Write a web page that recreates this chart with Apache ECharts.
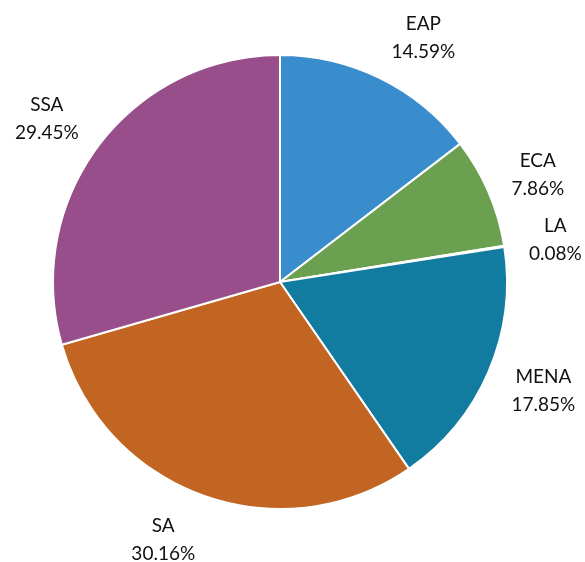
<!DOCTYPE html>
<html>
<head>
<meta charset="utf-8">
<script src="https://cdn.jsdelivr.net/npm/echarts@6/dist/echarts.min.js"></script>
<style>
  html, body { margin: 0; padding: 0; background: #fff; }
  #chart { width: 585px; height: 562px; }
</style>
</head>
<body>
<div id="chart"></div>
<script>
// regions and their shares (%)
const regions = ['EAP', 'ECA', 'LA', 'MENA', 'SA', 'SSA']
const shares = [14.59, 7.86, 0.08, 17.85, 30.16, 29.45]
const sliceColors = ['#3a8dcc', '#6aa04f', '#e0b43c', '#127ba0', '#c26522', '#974e8a']

const CX = 280
const CY = 282
const R = 227
const LABEL_R = 252

const total = shares.reduce((a, b) => a + b, 0)

// mid angle of a slice, clockwise from 12 o'clock
function midAngle(i) {
  let before = 0
  for (let k = 0; k < i; k++) before += shares[k]
  return (before + shares[i] / 2) / total * Math.PI * 2
}

let chart = echarts.init(document.getElementById('chart'))

let option = {
  animation: false,
  textStyle: {
    fontFamily: 'Lato, sans-serif'
  },
  series: [
    {
      type: 'pie',
      center: [CX, CY],
      radius: [0, R],
      startAngle: 90,
      clockwise: true,
      avoidLabelOverlap: false,
      itemStyle: {
        borderColor: '#fff',
        borderWidth: 2
      },
      label: {
        show: true,
        position: 'outside',
        distanceToLabelLine: 0,
        color: '#111',
        fontSize: 19,
        lineHeight: 28,
        fontFamily: 'Lato, sans-serif',
        formatter: p => p.name + '\n' + p.value.toFixed(2) + '%'
      },
      labelLine: {
        show: false,
        length: 0,
        length2: 0
      },
      // put the label box corner against the slice, like office charts do
      labelLayout: function (params) {
        const a = midAngle(params.dataIndex)
        const dx = Math.sin(a)
        const dy = -Math.cos(a)
        const w = params.labelRect.width
        const h = params.labelRect.height
        return {
          x: CX + LABEL_R * dx + Math.sign(dx) * w / 2,
          y: CY + LABEL_R * dy + dy * (h / 2 - 7) + 1,
          align: 'center',
          verticalAlign: 'middle'
        }
      },
      emphasis: { disabled: true },
      data: regions.map((name, i) => ({
        name: name,
        value: shares[i],
        itemStyle: { color: sliceColors[i] }
      }))
    }
  ]
}

chart.setOption(option)
</script>
</body>
</html>
